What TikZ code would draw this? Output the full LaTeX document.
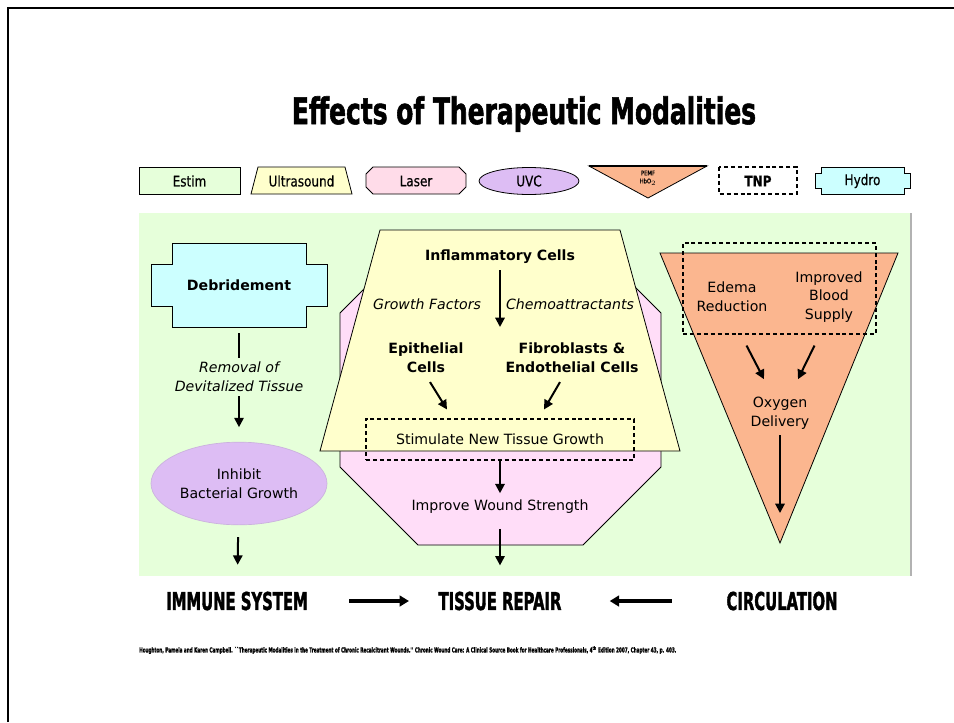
\documentclass[tikz,border=0pt]{standalone}
\usepackage{fontspec}
\setmainfont{DejaVu Sans}
\newfontfamily\heavyfont{DejaVu Sans Bold}[FakeStretch=0.6,FakeBold=1.5]
\newfontfamily\titlefont{DejaVu Sans Bold}[FakeStretch=0.68,FakeBold=1.5]
\newfontfamily\narrowfont{DejaVu Sans}[FakeStretch=0.82,FakeBold=0.4]
\usepackage{xcolor}
\usetikzlibrary{arrows.meta,shapes.geometric}
\definecolor{bggreen}{HTML}{E6FFDA}
\definecolor{usyellow}{HTML}{FFFFCC}
\definecolor{laserpink}{HTML}{FFDCE9}
\definecolor{octpink}{HTML}{FFDDF8}
\definecolor{uvcviolet}{HTML}{DDBDF4}
\definecolor{pemfsalmon}{HTML}{FBB68F}
\definecolor{hydrocyan}{HTML}{CCFFFF}
\newcommand{\bodyfont}{\fontsize{10.6}{14}\selectfont}

\begin{document}
\begin{tikzpicture}[x=0.75pt, y=-0.75pt,
  every node/.style={font=\bodyfont, inner sep=0pt, align=center},
  outline/.style={draw=black, line width=0.6pt},
  dashbox/.style={draw=black, line width=0.8pt, dash pattern=on 3pt off 2.2pt},
  legendtext/.style={font=\narrowfont\fontsize{11}{12}\selectfont},
  heading/.style={font=\heavyfont\fontsize{18.5}{20}\selectfont},
  arr/.style={-{Triangle[length=7pt,width=7pt]}, line width=1.5pt},
  bigarr/.style={-{Triangle[length=7pt,width=8pt]}, line width=2.4pt},
  bar/.style={line width=1.5pt}]
\useasboundingbox (0,0) rectangle (954,722);
% slide frame
\draw[line width=2.2pt] (8,722) -- (8,8) -- (954,8);
\node[font=\titlefont\fontsize{27.5}{30}\selectfont] (title) at (524,114) {Effects of Therapeutic Modalities};

% legend
\draw[outline, fill=bggreen] (139,167) rectangle (240,194);
\node[legendtext] (estim) at (189.5,181) {Estim};
\draw[outline, fill=usyellow] (251,194) -- (258,167) -- (345,167) -- (352,194) -- cycle;
\node[legendtext] (ultra) at (301.5,181) {Ultrasound};
\draw[outline, fill=laserpink] (373,167) -- (459,167) -- (466,174) -- (466,187) -- (459,194)
  -- (373,194) -- (366,187) -- (366,174) -- cycle;
\node[legendtext] (laser) at (416,181) {Laser};
\draw[outline, fill=uvcviolet] (529,181) ellipse [x radius=50, y radius=13.5];
\node[legendtext] (uvc) at (529,181) {UVC};
\draw[outline, fill=pemfsalmon] (589,166) -- (707,166) -- (648,198) -- cycle;
\draw[line width=1.6pt] (589,166) -- (707,166);
\node[font=\narrowfont\fontsize{4.8}{6}\selectfont] (pemf) at (648,178) {PEMF\\HbO$_2$};
\draw[dashbox] (719,167) rectangle (797,194);
\node[font=\narrowfont\bfseries\fontsize{11}{12}\selectfont] (tnp) at (758,181) {TNP};
\draw[outline, fill=hydrocyan] (821,167) -- (904,167) -- (904,173) -- (910,173) -- (910,188)
  -- (904,188) -- (904,194) -- (821,194) -- (821,188) -- (815,188) -- (815,173) -- (821,173) -- cycle;
\node[legendtext] (hydro) at (862.5,181) {Hydro};

% panel
\fill[bggreen] (139,213) rectangle (911,576);
\draw[black!30, line width=0.8pt] (911,213) -- (911,576);

% left column
\draw[outline, fill=hydrocyan] (172,243) -- (306,243) -- (306,264) -- (327,264) -- (327,306)
  -- (306,306) -- (306,327) -- (172,327) -- (172,306) -- (151,306) -- (151,264) -- (172,264) -- cycle;
\node[font=\bodyfont\bfseries, minimum width=132pt, minimum height=63pt] (debr) at (239,285) {Debridement};
\node[font=\bodyfont\itshape] (removal) at (239,376.5) {Removal of\\Devitalized Tissue};
\node[ellipse, fill=uvcviolet, draw=uvcviolet!80!gray, line width=0.5pt,
  minimum width=132pt, minimum height=62pt] (inhibit) at (239,483.5) {Inhibit\\Bacterial Growth};
\draw[bar, shorten <=4.5pt, shorten >=2.8pt] (debr) -- (removal);
\draw[arr, shorten <=3.5pt, shorten >=11pt] (removal) -- (inhibit);

% middle column
\draw[outline, fill=octpink] (418,235) -- (583,235) -- (661,313) -- (661,467) -- (583,545)
  -- (418,545) -- (340,467) -- (340,313) -- cycle;
\draw[outline, fill=usyellow] (380,230) -- (620,230) -- (680,451) -- (320,451) -- cycle;
\node[font=\bodyfont\bfseries] (infl) at (500,257) {Inflammatory Cells};
\node[font=\bodyfont\itshape] (gf) at (427,304) {Growth Factors};
\node[font=\bodyfont\itshape] (chemo) at (570,304) {Chemoattractants};
\node[font=\bodyfont\bfseries] (epi) at (426,358) {Epithelial\\Cells};
\node[font=\bodyfont\bfseries] (fibro) at (572,358) {Fibroblasts \&\\Endothelial Cells};
\node[dashbox, minimum width=201pt, minimum height=30.75pt] (stim) at (500,439.5) {Stimulate New Tissue Growth};
\node (wound) at (500,507) {Improve Wound Strength};
\coordinate (cellsplit) at (500,327);
\draw[arr, shorten <=4.5pt] (infl) -- (cellsplit);
\draw[arr] ([shift={(4,9)}]epi.south) -- ([shift={(-53,-9)}]stim.north);
\draw[arr] ([shift={(-12,9)}]fibro.south) -- ([shift={(44,-9)}]stim.north);
\draw[arr, shorten >=5pt] (stim) -- (wound);

% right column
\draw[outline, fill=pemfsalmon] (660,253) -- (898,253) -- (780,543) -- cycle;
\node[dashbox, minimum width=144.75pt, minimum height=68.25pt] (circbox) at (779.5,288.5) {};
\node (edema) at (732,296.5) {Edema\\Reduction};
\node (blood) at (829,297) {Improved\\Blood\\Supply};
\node (oxygen) at (780,413.5) {Oxygen\\Delivery};
\coordinate (apex) at (780,513);
\draw[arr] ([shift={(-33,11)}]circbox.south) -- ([shift={(-16,-18)}]oxygen.north);
\draw[arr] ([shift={(35,11)}]circbox.south) -- ([shift={(18,-18)}]oxygen.north);
\draw[arr, shorten <=4pt] (oxygen) -- (apex);

% systems
\node[heading] (immune) at (237,601) {IMMUNE SYSTEM};
\node[heading] (repair) at (500,601) {TISSUE REPAIR};
\node[heading] (circ) at (782,601) {CIRCULATION};
\draw[arr, shorten <=9pt, shorten >=20pt] (inhibit) -- (immune);
\draw[arr, shorten <=11pt, shorten >=19.5pt] (wound) -- (repair);
\draw[bigarr, shorten <=31pt, shorten >=22pt] (immune) -- (repair);
\draw[bigarr, shorten <=41pt, shorten >=36pt] (circ) -- (repair);

\node[anchor=west, font=\heavyfont\fontsize{5.2}{6}\selectfont] (source) at (139,650)
  {Houghton, Pamela and Karen Campbell. ``Therapeutic Modalities in the Treatment of Chronic Recalcitrant Wounds.'' Chronic Wound Care: A Clinical Source Book for Healthcare Professionals, 4\textsuperscript{th} Edition 2007, Chapter 43, p. 403.};
\end{tikzpicture}
\end{document}
